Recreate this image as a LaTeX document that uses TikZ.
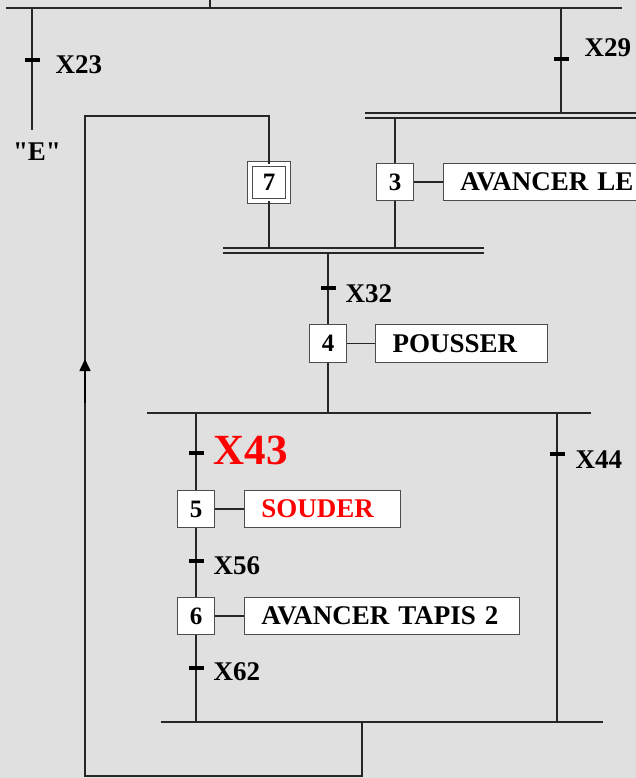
\documentclass[tikz,border=0pt]{standalone}
\usepackage{fontspec}
\setmainfont{Liberation Serif}[Ligatures=TeXOff]
\usetikzlibrary{arrows.meta,positioning}
\definecolor{fondgris}{RGB}{224,224,224}
\definecolor{rougeact}{RGB}{255,0,0}

\begin{document}
\begin{tikzpicture}[x=1pt, y=-1pt, line width=1.1pt, draw=black!85,
	every node/.style={font=\fontsize{27}{30}\selectfont\bfseries},
	etape/.style={draw=black!70, fill=white, minimum width=37pt, minimum height=37.5pt, inner sep=0pt, font=\fontsize{25}{30}\selectfont\bfseries},
	etapeinit/.style={etape, minimum width=38pt, minimum height=36.5pt, double=white, double distance=4pt},
	action/.style={draw=black!70, fill=white, minimum height=37.5pt, inner xsep=17pt, inner ysep=0pt, anchor=west, align=left},
	trans/.style={fill=black, minimum width=15pt, minimum height=3.4pt, inner sep=0pt},
	recept/.style={inner sep=0pt},
	fleche/.style={-{Triangle[length=12pt,width=11pt]}, line width=1.6pt, black}]
	\useasboundingbox (0,0) rectangle (636,778);
	\clip (0,0) rectangle (636,778);
	\fill[fondgris] (0,0) rectangle (636,778);
	% haut
	\coordinate (h0) at (210,0); \coordinate (h0b) at (210,8);
	\coordinate (h1) at (6,8); \coordinate (h2) at (622,8);
	\draw (h1) -- (h2); \draw (h0) -- (h0b);
	\coordinate (g1) at (32,8); \coordinate (g2) at (32,130);
	\node[trans] (t23) at (32,60) {};
	\node[recept, right=15pt of t23, yshift=-5pt] (l23) {X23};
	\draw (g1) -- (t23) -- (g2);
	\node (e) at (37,152) {"E"};
	\coordinate (d1) at (561,8); \coordinate (d2) at (561,113);
	\node[trans] (t29) at (561,59) {};
	\node[recept, right=15pt of t29, yshift=11pt] (l29) {X29};
	\draw (d1) -- (t29) -- (d2);
	% synchronisations
	\coordinate (sa1) at (365,113); \coordinate (sa2) at (640,113);
	\coordinate (sb1) at (365,118); \coordinate (sb2) at (640,118);
	\draw (sa1) -- (sa2) (sb1) -- (sb2);
	\coordinate (sc1) at (223,248); \coordinate (sc2) at (484,248);
	\coordinate (sd1) at (223,253); \coordinate (sd2) at (484,253);
	\draw (sc1) -- (sc2) (sd1) -- (sd2);
	% etapes 3 et 7
	\node[etape] (s3) at (395,182) {3};
	\node[action, text width=270pt] (a3) at (442.7,182) {AVANCER LE};
	\coordinate (s3h) at (395,118); \coordinate (s3b) at (395,248);
	\draw (s3h) -- (s3) -- (s3b); \draw (s3) -- (a3);
	\node[etapeinit] (s7) at (269,182.5) {7};
	\coordinate (s7b) at (269,248);
	\draw (s7) -- (s7b);
	% boucle
	\coordinate (b1) at (269,116); \coordinate (b2) at (85,116);
	\coordinate (b3) at (85,776); \coordinate (b4) at (362,776);
	\coordinate (b5) at (362,722);
	\draw (b5) -- (b4) -- (b3) -- (b2) -- (b1) -- (s7);
	\coordinate (f1) at (85,403); \coordinate (f2) at (85,359);
	\draw[fleche] (f1) -- (f2);
	% etape 4
	\coordinate (s4h) at (328,253); \coordinate (s4b) at (328,413);
	\node[trans] (t32) at (328,288) {};
	\node[recept, right=9pt of t32, yshift=-6pt] (l32) {X32};
	\node[etape] (s4) at (328,343.5) {4};
	\node[action, text width=138pt] (a4) at (375,343.5) {POUSSER};
	\draw (s4h) -- (t32) -- (s4) -- (s4b); \draw (s4) -- (a4);
	% divergence en OU
	\coordinate (o1) at (147,413); \coordinate (o2) at (591,413);
	\draw (o1) -- (o2);
	\coordinate (o3) at (196,413); \coordinate (o4) at (196,722);
	\node[trans] (t43) at (196,453) {};
	\node[recept, right=9pt of t43, yshift=3pt, text=rougeact, font=\fontsize{43}{48}\selectfont\bfseries] (l43) {X43};
	\node[etape] (s5) at (196,509) {5};
	\node[action, text width=122.3pt, text=rougeact] (a5) at (243.7,509) {SOUDER};
	\node[trans] (t56) at (196,561) {};
	\node[recept, right=9pt of t56, yshift=-5pt] (l56) {X56};
	\node[etape] (s6) at (196,616) {6};
	\node[action, text width=241pt] (a6) at (243.7,616) {AVANCER TAPIS 2};
	\node[trans] (t62) at (196,668) {};
	\node[recept, right=9pt of t62, yshift=-4pt] (l62) {X62};
	\draw (o3) -- (t43) -- (s5) -- (t56) -- (s6) -- (t62) -- (o4);
	\draw (s5) -- (a5); \draw (s6) -- (a6);
	\coordinate (o5) at (557,413); \coordinate (o6) at (557,722);
	\node[trans] (t44) at (557,454) {};
	\node[recept, right=10pt of t44, yshift=-6pt] (l44) {X44};
	\draw (o5) -- (t44) -- (o6);
	% convergence en OU
	\coordinate (c1) at (161,722); \coordinate (c2) at (603,722);
	\draw (c1) -- (c2);
\end{tikzpicture}
\end{document}
